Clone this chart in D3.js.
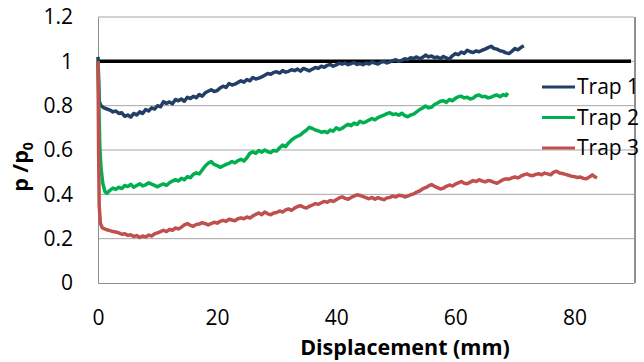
<!DOCTYPE html>
<html>
<head>
<meta charset="utf-8">
<script src="https://cdn.jsdelivr.net/npm/d3@7"></script>
<style>
  body { margin: 0; background: #fff; }
  svg { display: block; font-family: 'Open Sans', sans-serif; }
</style>
</head>
<body>
<div id="chart"></div>
<script>
// values: [displacement mm, p/p0]
const trap1 = [[0,1.02],[0.2,0.82],[0.5,0.80],[1,.79],[1.5,.785],[2,.78],[2.5,.772],[3,.776],[3.5,.765],[4,.768],[4.5,.752],[5,.758],
  [5.5,.748],[6,.765],[6.5,.758],[7,.772],[7.5,.765],[8,.783],[8.5,.776],[9,.79],[9.5,.785],[10,.80],[10.5,.795],[11,.818],[11.5,.81],
  [12,.817],[12.5,.808],[13,.828],[13.5,.822],[14,.83],[14.5,.82],[15,.838],[15.5,.832],[16,.842],[16.5,.836],[17,.85],[17.5,.843],
  [18,.858],[18.5,.865],[19,.872],[19.5,.864],[20,.868],[20.5,.88],[21,.888],[21.5,.882],[22,.9],[22.5,.893],[23,.897],[23.5,.905],
  [24,.912],[24.5,.906],[25,.918],[25.5,.912],[26,.927],[26.5,.92],[27,.924],[27.5,.93],[28,.937],[28.5,.945],[29,.942],[29.5,.95],
  [30,.953],[30.5,.947],[31,.958],[31.5,.951],[32,.955],[32.5,.962],[33,.958],[33.5,.965],[34,.956],[34.5,.968],[35,.963],[35.5,.957],
  [36,.965],[36.5,.972],[37,.968],[37.5,.978],[38,.973],[38.5,.982],[39,.986],[39.5,.978],[40,.984],[40.5,.992],[41,.987],[41.5,.993],
  [42,.985],[42.5,.99],[43,.995],[43.5,.986],[44,.99],[44.5,.985],[45,.993],[45.5,.988],[46,.997],[46.5,.992],[47,.988],[47.5,.996],
  [48,1.0],[48.5,.993],[49,.998],[49.5,1.003],[50,1.007],[50.5,1.0],[51,1.004],[51.5,1.012],[52,1.008],[52.5,1.016],[53,1.013],
  [53.5,1.02],[54,1.011],[54.5,1.018],[55,1.028],[55.5,1.02],[56,1.024],[56.5,1.016],[57,1.02],[57.5,1.012],[58,1.022],[58.5,1.015],
  [59,1.01],[59.5,1.025],[60,1.035],[60.5,1.03],[61,1.042],[61.5,1.036],[62,1.05],[62.5,1.043],[63,1.04],[63.5,1.047],[64,1.043],
  [64.5,1.05],[65,1.055],[65.5,1.062],[66,1.068],[66.5,1.058],[67,1.055],[67.5,1.048],[68,1.045],[68.5,1.038],[69,1.035],[69.5,1.045],
  [70,1.058],[70.5,1.052],[71,1.062],[71.5,1.07]];
const trap2 = [[0,1.0],[0.15,0.8],[0.3,0.62],[0.5,0.52],[0.8,0.45],[1.2,0.41],[1.5,0.405],[2,.418],[2.5,.428],[3,.422],[3.5,.432],
  [4,.426],[4.5,.44],[5,.435],[5.5,.445],[6,.432],[6.5,.44],[7,.448],[7.5,.438],[8,.443],[8.5,.452],[9,.446],[9.5,.44],[10,.434],
  [10.5,.442],[11,.447],[11.5,.44],[12,.452],[12.5,.46],[13,.466],[13.5,.46],[14,.472],[14.5,.466],[15,.48],[15.5,.475],[16,.49],
  [16.5,.497],[17,.492],[17.5,.51],[18,.528],[18.5,.54],[19,.548],[19.5,.535],[20,.53],[20.5,.522],[21,.528],[21.5,.535],[22,.54],
  [22.5,.548],[23,.542],[23.5,.552],[24,.558],[24.5,.55],[25,.565],[25.5,.585],[26,.592],[26.5,.585],[27,.598],[27.5,.59],[28,.6],
  [28.5,.592],[29,.588],[29.5,.598],[30,.595],[30.5,.61],[31,.622],[31.5,.615],[32,.632],[32.5,.645],[33,.655],[33.5,.662],[34,.668],
  [34.5,.68],[35,.69],[35.5,.702],[36,.697],[36.5,.69],[37,.686],[37.5,.68],[38,.684],[38.5,.678],[39,.69],[39.5,.685],[40,.7],
  [40.5,.692],[41,.698],[41.5,.708],[42,.716],[42.5,.71],[43,.722],[43.5,.715],[44,.73],[44.5,.723],[45,.727],[45.5,.735],[46,.742],
  [46.5,.736],[47,.746],[47.5,.752],[48,.757],[48.5,.764],[49,.768],[49.5,.76],[50,.763],[50.5,.757],[51,.766],[51.5,.755],[52,.75],
  [52.5,.758],[53,.762],[53.5,.772],[54,.782],[54.5,.79],[55,.798],[55.5,.79],[56,.793],[56.5,.805],[57,.812],[57.5,.82],[58,.822],
  [58.5,.815],[59,.828],[59.5,.822],[60,.833],[60.5,.84],[61,.843],[61.5,.835],[62,.838],[62.5,.83],[63,.834],[63.5,.845],[64,.848],
  [64.5,.84],[65,.842],[65.5,.835],[66,.838],[66.5,.845],[67,.848],[67.5,.84],[68,.85],[68.5,.845],[68.8,.857]];
const trap3 = [[0,1.0],[0.1,0.6],[0.2,0.35],[0.4,0.27],[0.7,0.25],[1,.245],[1.5,.24],[2,.236],[2.5,.232],[3,.23],[3.5,.226],[4,.22],
  [4.5,.222],[5,.215],[5.5,.218],[6,.21],[6.5,.214],[7,.205],[7.5,.212],[8,.208],[8.5,.216],[9,.212],[9.5,.222],[10,.226],[10.5,.232],
  [11,.238],[11.5,.232],[12,.242],[12.5,.238],[13,.248],[13.5,.244],[14,.252],[14.5,.262],[15,.268],[15.5,.26],[16,.256],[16.5,.264],
  [17,.266],[17.5,.272],[18,.268],[18.5,.262],[19,.268],[19.5,.274],[20,.27],[20.5,.278],[21,.283],[21.5,.278],[22,.288],[22.5,.284],
  [23,.281],[23.5,.29],[24,.294],[24.5,.29],[25,.298],[25.5,.293],[26,.302],[26.5,.31],[27,.316],[27.5,.308],[28,.32],[28.5,.312],
  [29,.308],[29.5,.316],[30,.318],[30.5,.325],[31,.32],[31.5,.33],[32,.334],[32.5,.328],[33,.338],[33.5,.345],[34,.349],[34.5,.342],
  [35,.338],[35.5,.346],[36,.352],[36.5,.358],[37,.355],[37.5,.362],[38,.368],[38.5,.364],[39,.372],[39.5,.368],[40,.376],[40.5,.384],
  [41,.389],[41.5,.382],[42,.378],[42.5,.386],[43,.392],[43.5,.398],[44,.395],[44.5,.39],[45,.385],[45.5,.38],[46,.386],[46.5,.378],
  [47,.385],[47.5,.38],[48,.376],[48.5,.384],[49,.386],[49.5,.392],[50,.388],[50.5,.396],[51,.394],[51.5,.388],[52,.392],[52.5,.398],
  [53,.402],[53.5,.41],[54,.415],[54.5,.425],[55,.43],[55.5,.438],[56,.444],[56.5,.436],[57,.43],[57.5,.424],[58,.428],[58.5,.436],
  [59,.442],[59.5,.438],[60,.446],[60.5,.452],[61,.458],[61.5,.45],[62,.448],[62.5,.455],[63,.462],[63.5,.458],[64,.466],[64.5,.46],
  [65,.456],[65.5,.462],[66,.46],[66.5,.454],[67,.45],[67.5,.458],[68,.466],[68.5,.47],[69,.468],[69.5,.474],[70,.478],[70.5,.474],
  [71,.482],[71.5,.488],[72,.492],[72.5,.486],[73,.484],[73.5,.49],[74,.493],[74.5,.488],[75,.496],[75.5,.492],[76,.488],[76.5,.5],
  [77,.504],[77.5,.496],[78,.494],[78.5,.49],[79,.486],[79.5,.482],[80,.48],[80.5,.476],[81,.478],[81.5,.472],[82,.47],[82.5,.478],
  [83,.488],[83.5,.478],[83.8,.475]];
const reference = [[0,1],[89.5,1]];

const seriesNames = ['Trap 1', 'Trap 2', 'Trap 3'];
const seriesColors = ['#243f66', '#00b050', '#c0504d'];
const xTicks = [0, 20, 40, 60, 80];
const yTicks = [0, 0.2, 0.4, 0.6, 0.8, 1, 1.2];

const width = 644, height = 362;
const plot = { left: 98, right: 634, top: 17, bottom: 283 };

const svg = d3.select('#chart').append('svg')
    .attr('width', width)
    .attr('height', height);

const x = d3.scaleLinear().domain([0, 90]).range([plot.left, plot.right]);
const y = d3.scaleLinear().domain([0, 1.2]).range([plot.bottom, plot.top]);

// gridlines
svg.append('g')
    .selectAll('line')
    .data(yTicks.filter(d => d > 0))
    .enter().append('line')
    .attr('x1', plot.left).attr('x2', plot.right)
    .attr('y1', d => y(d)).attr('y2', d => y(d))
    .attr('stroke', '#a6a6a6')
    .attr('stroke-width', 1);

// right border
svg.append('line')
    .attr('x1', plot.right + 1).attr('x2', plot.right + 1)
    .attr('y1', plot.top).attr('y2', plot.bottom)
    .attr('stroke', '#222').attr('stroke-width', 1);

// axes
const xAxis = svg.append('g')
    .attr('transform', 'translate(0,' + plot.bottom + ')')
    .call(d3.axisBottom(x).tickValues(xTicks).tickSize(0).tickPadding(27).tickFormat(d3.format('d')));
const yAxis = svg.append('g')
    .attr('transform', 'translate(' + plot.left + ',0)')
    .call(d3.axisLeft(y).tickValues(yTicks).tickSize(0).tickPadding(25).tickFormat(d => d === 0 || d === 1 ? d : d.toFixed(1)));
[xAxis, yAxis].forEach(a => {
  a.select('.domain').attr('stroke', '#8c8c8c').attr('stroke-width', 1);
  a.selectAll('text').attr('font-family', "'Open Sans', sans-serif").attr('font-size', 21).attr('fill', '#000');
});

// lines
const line = d3.line().x(d => x(d[0])).y(d => y(d[1]));
svg.append('path')
    .datum(reference)
    .attr('fill', 'none')
    .attr('stroke', '#000')
    .attr('stroke-width', 3.5)
    .attr('d', line);

[trap1, trap2, trap3].forEach((s, i) => {
  svg.append('path')
      .datum(s)
      .attr('fill', 'none')
      .attr('stroke', seriesColors[i])
      .attr('stroke-width', 3.5)
      .attr('stroke-linejoin', 'round')
      .attr('d', line);
});

// legend
const legend = svg.append('g');
seriesNames.forEach((name, i) => {
  const ly = 87 + i * 30.5;
  legend.append('line')
      .attr('x1', 542).attr('x2', 575)
      .attr('y1', ly).attr('y2', ly)
      .attr('stroke', seriesColors[i]).attr('stroke-width', 3);
  legend.append('text')
      .attr('x', 577).attr('y', ly)
      .attr('dy', '0.35em')
      .attr('font-size', 21)
      .text(name);
});

// axis titles
svg.append('text')
    .attr('x', 405).attr('y', 355)
    .attr('text-anchor', 'middle')
    .attr('font-size', 21.5)
    .attr('font-weight', 'bold')
    .text('Displacement (mm)');

const yTitle = svg.append('text')
    .attr('transform', 'translate(28,167) rotate(-90)')
    .attr('text-anchor', 'middle')
    .attr('font-size', 21.5)
    .attr('font-weight', 'bold');
yTitle.append('tspan').text('p /p');
yTitle.append('tspan').attr('font-size', 14).attr('dy', 5).text('0');
</script>
</body>
</html>
